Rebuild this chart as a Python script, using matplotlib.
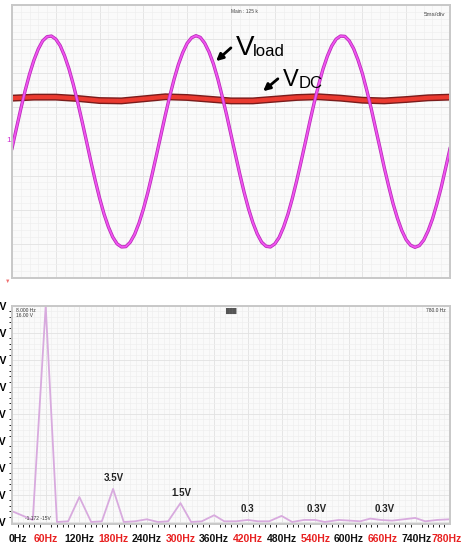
import matplotlib
matplotlib.use("Agg")
import matplotlib.pyplot as plt
import numpy as np

W, H = 464, 546

# scope trace, time in ms (5 ms/div), amplitude in divisions
t_load = [i * 0.5 for i in range(101)]
v_load = [-0.20, 0.38, 0.95, 1.49, 1.97, 2.38, 2.71, 2.95, 3.07, 3.09,
          3.00, 2.81, 2.51, 2.13, 1.67, 1.15, 0.59, 0.01, -0.58, -1.14,
          -1.66, -2.12, -2.50, -2.80, -3.00, -3.09, -3.08, -2.95, -2.72, -2.39,
          -1.98, -1.50, -0.96, -0.39, 0.19, 0.77, 1.32, 1.82, 2.26, 2.61,
          2.88, 3.04, 3.10, 3.05, 2.88, 2.62, 2.27, 1.83, 1.32, 0.78,
          0.20, -0.38, -0.95, -1.49, -1.97, -2.38, -2.71, -2.95, -3.07, -3.09,
          -3.00, -2.81, -2.51, -2.13, -1.67, -1.15, -0.59, -0.01, 0.58, 1.14,
          1.66, 2.12, 2.50, 2.80, 3.00, 3.09, 3.08, 2.95, 2.72, 2.39,
          1.99, 1.50, 0.97, 0.39, -0.18, -0.77, -1.31, -1.82, -2.25, -2.61,
          -2.88, -3.04, -3.10, -3.05, -2.89, -2.62, -2.27, -1.83, -1.34, -0.78,
          -0.21]
t_dc = [0, 2.5, 5, 7.5, 10, 12.5, 15, 17.5, 20, 22.5, 25, 27.5, 30, 32.5,
        35, 37.5, 40, 42.5, 45, 47.5, 50]
v_dc = [1.27, 1.30, 1.30, 1.26, 1.20, 1.19, 1.25, 1.31, 1.29, 1.24, 1.19,
        1.19, 1.24, 1.29, 1.31, 1.27, 1.21, 1.19, 1.23, 1.28, 1.30]

# spectrum
freq = [0, 37, 60, 80, 100, 120, 141, 160, 180, 199, 219, 240, 260, 278,
        300, 319, 338, 360, 378, 399, 420, 438, 458, 480, 499, 520, 540,
        557, 582, 602, 620, 638, 657, 677, 698, 718, 736, 757, 780]
amp = [0.8, 0.15, 16.0, 0.0, 0.05, 1.85, 0.0, 0.05, 2.45, 0.0, 0.05, 0.2,
       0.0, 0.05, 1.4, 0.0, 0.05, 0.5, 0.05, 0.05, 0.15, 0.05, 0.05, 0.45,
       0.0, 0.15, 0.15, 0.0, 0.15, 0.1, 0.05, 0.25, 0.15, 0.1, 0.2, 0.3,
       0.05, 0.15, 0.2]
x_ticks = [0, 60, 120, 180, 240, 300, 360, 420, 480, 540, 600, 660, 720, 780]
x_labels = ["0Hz", "60Hz", "120Hz", "180Hz", "240Hz", "300Hz", "360Hz", "420Hz",
            "480Hz", "540Hz", "600Hz", "660Hz", "740Hz", "780Hz"]
y_ticks = [0, 2, 4, 6, 8, 10, 12, 14, 16]
y_labels = ["0V", "2V", "4V", "6V", "8V", "10V", "12V", "14V", "16V"]
peak_labels = [("3.5V", 182, 2.9), ("1.5V", 302, 1.8), ("0.3", 420, 0.6),
               ("0.3V", 542, 0.6), ("0.3V", 664, 0.6)]

plt.rcParams['font.family'] = ['Liberation Sans', 'DejaVu Sans']


def px(x, y):
    return x / W, 1 - y / H


def scope_grid(ax, xmin, xmax, xmaj, xmin_step, ymin, ymax, ymaj, ymin_step):
    ax.set_xticks(np.arange(xmin, xmax + 1e-9, xmaj))
    ax.set_xticks(np.arange(xmin, xmax + 1e-9, xmin_step), minor=True)
    ax.set_yticks(np.arange(ymin, ymax + 1e-9, ymaj))
    ax.set_yticks(np.arange(ymin, ymax + 1e-9, ymin_step), minor=True)
    ax.grid(which='minor', color='#efefef', lw=0.5)
    ax.grid(which='major', color='#e2e2e2', lw=0.6)
    ax.set_axisbelow(True)
    for s in ax.spines.values():
        s.set_color('#c8c8c8')
        s.set_linewidth(1.4)
    ax.set_facecolor('#fafafa')


fig = plt.figure(figsize=(W / 100, H / 100), dpi=100)

# --- top: oscilloscope trace ---
ax1 = fig.add_axes([12 / W, 1 - 278 / H, 438 / W, 273 / H])
ax1.set_xlim(0, 50)
ax1.set_ylim(-4, 4)
scope_grid(ax1, 0, 50, 5, 1, -4, 4, 1, 0.2)
ax1.tick_params(which='both', length=0, labelbottom=False, labelleft=False)

ax1.plot(t_dc, v_dc, color='#7a1b1b', lw=5.0, solid_capstyle='butt')
ax1.plot(t_dc, v_dc, color='#ea3a30', lw=3.0, solid_capstyle='butt')
ax1.plot(t_load, v_load, color='#b82ab8', lw=2.4)
ax1.plot(t_load, v_load, color='#f055f0', lw=1.3)

ax1.text(0.5, 0.985, "Main : 125 k", transform=ax1.transAxes, fontsize=3.5,
         ha='left', va='top', color='#444444')
ax1.text(0.99, 0.975, "5ms/div", transform=ax1.transAxes, fontsize=4.5,
         ha='right', va='top', color='#444444')
fig.text(*px(9, 140), "1", fontsize=6, color='#d030d0', ha='center', va='center')
fig.text(*px(8, 281), "\u25bc", fontsize=4, color='#f07070', ha='center', va='center')

# labels with arrows
fig.text(*px(236, 55), "V", fontsize=20, color='black', va='baseline')
fig.text(*px(253, 56), "load", fontsize=12, color='black', va='baseline')
fig.text(*px(283, 86), "V", fontsize=17, color='black', va='baseline')
fig.text(*px(299, 88), "DC", fontsize=12, color='black', va='baseline')
arrow = dict(arrowstyle='-|>', color='black', lw=2.0, mutation_scale=10)
fig.add_artist(matplotlib.patches.FancyArrowPatch(px(233, 46), px(214, 63),
               transform=fig.transFigure, **arrow))
fig.add_artist(matplotlib.patches.FancyArrowPatch(px(280, 77), px(261, 93),
               transform=fig.transFigure, **arrow))

# --- bottom: spectrum ---
ax2 = fig.add_axes([12 / W, 1 - 524 / H, 438 / W, 218 / H])
ax2.set_xlim(0, 780)
ax2.set_ylim(-0.15, 16)
scope_grid(ax2, 0, 780, 60, 10, 0, 16, 2, 0.4)
ax2.plot(freq, amp, color='#d8aade', lw=1.3)

ax2.tick_params(axis='x', length=0, labelbottom=False)
# frequency labels drawn as text, first and last nudged inside the figure
for i, (f, lab) in enumerate(zip(x_ticks, x_labels)):
    dx = 4.5 if i == 0 else (-2.5 if i == len(x_ticks) - 1 else 0)
    ax2.annotate(lab, xy=(f, 0), xycoords=('data', 'axes fraction'),
                 xytext=(dx, -10.5), textcoords='offset points',
                 fontsize=7.5, fontweight='bold', ha='center', va='center',
                 color='#e82020' if i % 2 else '#111111', annotation_clip=False)
ax2.set_yticks(y_ticks)
ax2.set_yticklabels(y_labels, fontsize=7.5, fontweight='bold')
ax2.tick_params(axis='y', length=0, pad=4)

for txt, f, v in peak_labels:
    ax2.text(f, v, txt, fontsize=7, fontweight='bold', ha='center', va='bottom',
             color='#222222')

ax2.text(0.01, 0.99, "8.000 Hz\n16.00 V", transform=ax2.transAxes, fontsize=3.5,
         ha='left', va='top', color='#333333', linespacing=1.0)
ax2.text(0.99, 0.99, "780.0 Hz", transform=ax2.transAxes, fontsize=3.5,
         ha='right', va='top', color='#333333')
ax2.text(0.03, 0.015, "-1.172 -15V", transform=ax2.transAxes, fontsize=3.5,
         ha='left', va='bottom', color='#333333')
ax2.text(0.5, 0.99, "\u2588\u2588\u2588", transform=ax2.transAxes, fontsize=3.5,
         ha='center', va='top', color='#555555')

fig.savefig("out.png", dpi=100, facecolor='white')
